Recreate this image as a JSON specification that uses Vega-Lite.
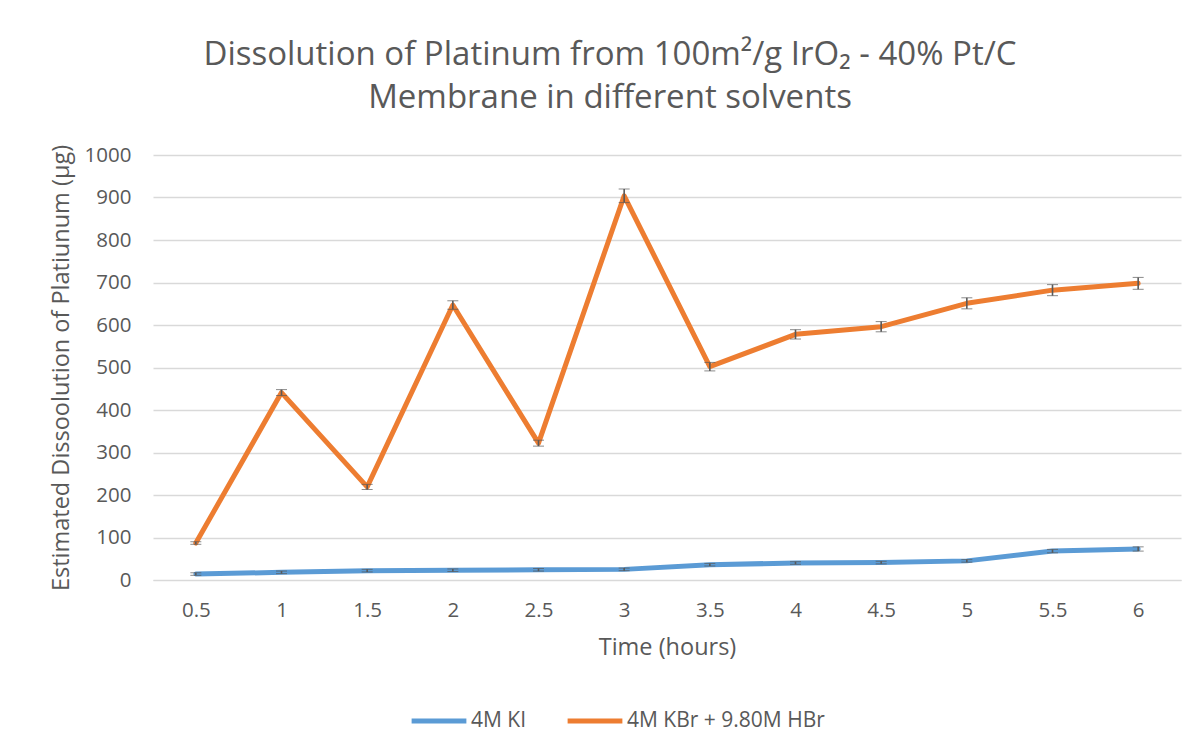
{
  "$schema": "https://vega.github.io/schema/vega-lite/v6.json",
  "autosize": {"type": "none"},
  "width": 1028,
  "height": 425,
  "padding": {"left": 153, "top": 155, "right": 19, "bottom": 173},
  "background": "white",
  "title": {
    "text": ["Dissolution of Platinum from 100m²/g IrO₂ - 40% Pt/C", "Membrane in different solvents"],
    "font": "Open Sans",
    "fontWeight": "normal",
    "fontSize": 33,
    "color": "#595959",
    "anchor": "middle",
    "dx": -57,
    "lineHeight": 43,
    "offset": 29
  },
  "data": {
    "values": [
      {"time": "0.5", "series": "4M KI", "value": 14, "err": 3},
      {"time": "1", "series": "4M KI", "value": 18, "err": 3},
      {"time": "1.5", "series": "4M KI", "value": 22, "err": 3},
      {"time": "2", "series": "4M KI", "value": 23, "err": 3},
      {"time": "2.5", "series": "4M KI", "value": 24, "err": 3},
      {"time": "3", "series": "4M KI", "value": 25, "err": 3},
      {"time": "3.5", "series": "4M KI", "value": 36, "err": 3},
      {"time": "4", "series": "4M KI", "value": 40, "err": 3},
      {"time": "4.5", "series": "4M KI", "value": 41, "err": 3},
      {"time": "5", "series": "4M KI", "value": 45, "err": 3},
      {"time": "5.5", "series": "4M KI", "value": 68, "err": 4},
      {"time": "6", "series": "4M KI", "value": 73, "err": 5},
      {"time": "0.5", "series": "4M KBr + 9.80M HBr", "value": 87, "err": 3},
      {"time": "1", "series": "4M KBr + 9.80M HBr", "value": 441, "err": 7},
      {"time": "1.5", "series": "4M KBr + 9.80M HBr", "value": 219, "err": 6},
      {"time": "2", "series": "4M KBr + 9.80M HBr", "value": 647, "err": 10},
      {"time": "2.5", "series": "4M KBr + 9.80M HBr", "value": 322, "err": 7},
      {"time": "3", "series": "4M KBr + 9.80M HBr", "value": 904, "err": 16},
      {"time": "3.5", "series": "4M KBr + 9.80M HBr", "value": 502, "err": 10},
      {"time": "4", "series": "4M KBr + 9.80M HBr", "value": 578, "err": 11},
      {"time": "4.5", "series": "4M KBr + 9.80M HBr", "value": 596, "err": 12},
      {"time": "5", "series": "4M KBr + 9.80M HBr", "value": 651, "err": 13},
      {"time": "5.5", "series": "4M KBr + 9.80M HBr", "value": 682, "err": 13},
      {"time": "6", "series": "4M KBr + 9.80M HBr", "value": 698, "err": 14}
    ]
  },
  "encoding": {
    "x": {
      "field": "time",
      "type": "ordinal",
      "sort": null,
      "scale": {"type": "point", "padding": 0.5},
      "axis": {
        "title": "Time (hours)",
        "labelAngle": 0,
        "ticks": false,
        "domain": true,
        "domainColor": "#d9d9d9",
        "domainWidth": 1,
        "labelPadding": 20,
        "titlePadding": 15
      }
    }
  },
  "layer": [
    {
      "mark": {"type": "line", "strokeWidth": 5, "strokeCap": "round", "strokeJoin": "round"},
      "encoding": {
        "y": {
          "field": "value",
          "type": "quantitative",
          "title": "Estimated Dissoolution of Platiunum (µg)",
          "scale": {"domain": [0, 1000], "nice": false},
          "axis": {
            "values": [0, 100, 200, 300, 400, 500, 600, 700, 800, 900, 1000],
            "format": "d",
            "grid": true,
            "gridColor": "#d9d9d9",
            "gridWidth": 1.3,
            "domain": false,
            "ticks": false,
            "labelPadding": 22,
            "titlePadding": 11
          }
        },
        "color": {
          "field": "series",
          "type": "nominal",
          "sort": ["4M KI", "4M KBr + 9.80M HBr"],
          "scale": {"domain": ["4M KI", "4M KBr + 9.80M HBr"], "range": ["#5B9BD5", "#ED7D31"]},
          "legend": {
            "title": null,
            "orient": "none",
            "direction": "horizontal",
            "legendX": 256,
            "legendY": 536,
            "symbolType": "stroke",
            "symbolStrokeWidth": 5,
            "symbolSize": 3000,
            "labelFontSize": 21,
            "labelOffset": 2,
            "labelLimit": 400,
            "columnPadding": 30,
            "labelColor": "#595959",
            "labelFont": "Open Sans"
          }
        }
      }
    },
    {
      "mark": {"type": "errorbar", "ticks": {"size": 11, "color": "#595959", "strokeWidth": 1.6}, "rule": {"color": "#595959", "strokeWidth": 1.6}},
      "encoding": {
        "y": {"field": "value", "type": "quantitative", "title": "Estimated Dissoolution of Platiunum (µg)"},
        "yError": {"field": "err"}
      }
    }
  ],
  "config": {
    "font": "Open Sans",
    "view": {"stroke": null},
    "axis": {
      "labelFont": "Open Sans",
      "titleFont": "Open Sans",
      "labelFontSize": 20.5,
      "titleFontSize": 23.5,
      "titleFontWeight": "normal",
      "labelColor": "#595959",
      "titleColor": "#595959"
    }
  }
}
